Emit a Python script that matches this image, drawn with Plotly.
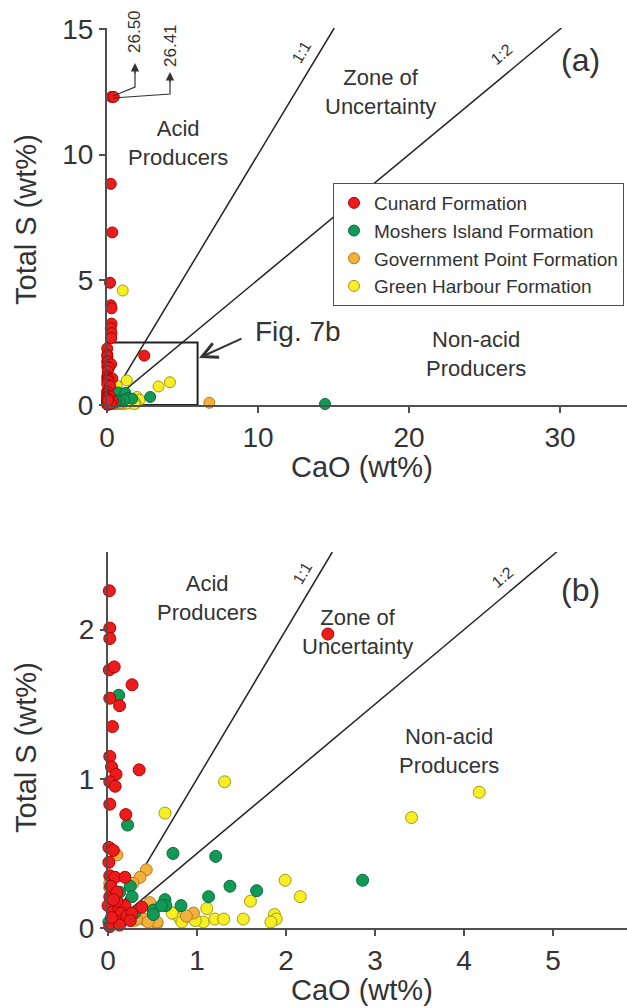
import plotly.graph_objects as go

W, H = 627, 1008

# ---------------- data (CaO wt%, Total S wt%) ----------------
cunard_cao = [0.30, 0.45, 0.25, 0.35, 0.20, 0.25, 0.30, 0.30, 0.25, 0.30, 0.28,
              0.015, 0.02, 0.02, 0.015, 0.07, 0.27, 0.02, 0.13, 0.05, 0.02, 0.04,
              0.35, 0.09, 0.02, 0.08, 0.02, 0.20, 0.01, 0.06, 0.01, 0.02, 0.08,
              0.19, 2.47, 0.02, 0.00, 0.06, 0.12, 0.19, 0.15, 0.08, 0.21, 0.27,
              0.02, 0.13, 0.38, 0.10, 0.04, 0.25, 0.03, 0.10, 0.06]
cunard_s = [26.50, 26.41, 8.83, 6.89, 4.88, 3.98, 3.86, 3.25, 3.07, 2.87, 2.67,
            2.26, 2.01, 1.94, 1.73, 1.75, 1.63, 1.54, 1.49, 1.35, 1.15, 1.08,
            1.06, 1.03, 0.98, 0.95, 0.83, 0.76, 0.54, 0.52, 0.44, 0.35, 0.34,
            0.34, 1.97, 0.21, 0.15, 0.11, 0.14, 0.15, 0.10, 0.05, 0.08, 0.10,
            0.01, 0.02, 0.14, 0.18, 0.07, 0.05, 0.28, 0.24, 0.19]

moshers_cao = [0.12, 0.22, 0.73, 1.21, 1.37, 1.67, 1.13, 0.25, 0.13, 0.27, 0.64,
               0.65, 0.82, 0.51, 0.30, 0.60, 2.86, 14.44, 0.01, 0.51]
moshers_s = [1.56, 0.69, 0.50, 0.48, 0.28, 0.25, 0.21, 0.28, 0.24, 0.21, 0.19,
             0.15, 0.15, 0.12, 0.10, 0.15, 0.32, 0.04, 0.04, 0.09]

govpoint_cao = [0.10, 0.43, 0.36, 0.47, 0.55, 0.96, 0.34, 0.43, 0.02, 0.40, 0.32,
                0.55, 0.02, 0.45, 0.88, 0.28, 6.78]
govpoint_s = [0.49, 0.39, 0.34, 0.17, 0.03, 0.10, 0.07, 0.05, 0.27, 0.06, 0.06,
              0.04, 0.30, 0.04, 0.08, 0.30, 0.09]

greenharb_cao = [1.04, 0.64, 1.31, 3.41, 4.17, 1.60, 1.99, 2.16, 1.11, 0.73, 1.52,
                 1.87, 1.89, 1.83, 1.07, 1.20, 1.30, 0.81, 0.83, 0.98, 0.30, 0.72]
greenharb_s = [4.57, 0.77, 0.98, 0.74, 0.91, 0.18, 0.32, 0.21, 0.13, 0.10, 0.06,
               0.09, 0.06, 0.04, 0.04, 0.06, 0.06, 0.06, 0.04, 0.05, 0.05, 0.10]

formations = ["Cunard Formation", "Moshers Island Formation",
              "Government Point Formation", "Green Harbour Formation"]
ratios = [1, 2]           # CaO : S lines
ratio_labels = ["1:1", "1:2"]
xticks_a = [0, 10, 20, 30]
yticks_a = [0, 5, 10, 15]
xticks_b = [0, 1, 2, 3, 4, 5]
yticks_b = [0, 1, 2]
offscale_labels = ["26.50", "26.41"]

# ---------------- styling ----------------
FONT = "Arial, Liberation Sans, sans-serif"
TXT = "#333333"
AXC = "#4f4f4f"
fills = ["#ec1c1c", "#119a55", "#f4b03c", "#f8ee24"]
edges = ["#b10000", "#0b6a3a", "#b27d1c", "#a59a12"]
draw_order = [3, 2, 1, 0]   # yellow first, red on top

XR_A, YR_A = [0, 34.44], [0, 15.05]
XR_B, YR_B = [0, 5.83], [0, 2.52]
OFFSCALE_Y = 12.3


def P(px, py):
    return px / W, 1 - py / H


series = [(cunard_cao, cunard_s), (moshers_cao, moshers_s),
          (govpoint_cao, govpoint_s), (greenharb_cao, greenharb_s)]

fig = go.Figure()

# ratio lines
for xa, ya, yr in (("x", "y", YR_A), ("x2", "y2", YR_B)):
    for r in ratios:
        fig.add_trace(go.Scatter(x=[0, yr[1] * r], y=[0, yr[1]], mode="lines",
                                 line=dict(color="#222222", width=1.5),
                                 xaxis=xa, yaxis=ya, showlegend=False,
                                 hoverinfo="skip"))

for i in draw_order:
    xs, ys = series[i]
    # panel a: all points, off-scale values shown at the top of the column
    ya_disp = [y if y <= YR_A[1] else OFFSCALE_Y for y in ys]
    fig.add_trace(go.Scatter(
        x=xs, y=ya_disp, mode="markers", name=formations[i],
        legendrank=i + 1, cliponaxis=False,
        marker=dict(size=11, color=fills[i], line=dict(color=edges[i], width=1)),
        xaxis="x", yaxis="y"))
    # panel b: zoomed window
    bx = [x for x, y in zip(xs, ys) if x <= XR_B[1] and y <= YR_B[1]]
    by = [y for x, y in zip(xs, ys) if x <= XR_B[1] and y <= YR_B[1]]
    fig.add_trace(go.Scatter(
        x=bx, y=by, mode="markers", name=formations[i], showlegend=False,
        cliponaxis=False,
        marker=dict(size=12, color=fills[i], line=dict(color=edges[i], width=1)),
        xaxis="x2", yaxis="y2"))

axis_common = dict(showgrid=False, zeroline=False, showline=True,
                   linecolor=AXC, linewidth=2, ticks="outside", ticklen=6,
                   tickwidth=1.5, tickcolor=AXC,
                   tickfont=dict(family=FONT, size=28, color=TXT))

fig.update_layout(
    width=W, height=H, margin=dict(l=0, r=0, t=0, b=0, autoexpand=False),
    paper_bgcolor="white", plot_bgcolor="white",
    font=dict(family=FONT, color=TXT),
    xaxis=dict(domain=[107 / W, 1], range=XR_A, anchor="y",
               tickvals=xticks_a, **axis_common),
    yaxis=dict(domain=[1 - 405 / H, 1 - 28 / H], range=YR_A, anchor="x",
               tickvals=yticks_a, **axis_common),
    xaxis2=dict(domain=[108 / W, 1], range=XR_B, anchor="y2",
                tickvals=xticks_b, **axis_common),
    yaxis2=dict(domain=[1 - 928 / H, 1 - 552 / H], range=YR_B, anchor="x2",
                tickvals=yticks_b, **axis_common),
    legend=dict(x=333 / W, y=1 - 183 / H, xanchor="left", yanchor="top",
                bordercolor=AXC, borderwidth=1, bgcolor="white",
                font=dict(family=FONT, size=19, color=TXT),
                tracegroupgap=0),
    showlegend=True,
)

ann = []


def text(px, py, s, size, angle=0, color=TXT):
    x, y = P(px, py)
    ann.append(dict(x=x, y=y, xref="paper", yref="paper", text=s,
                    showarrow=False, textangle=angle,
                    font=dict(family=FONT, size=size, color=color),
                    xanchor="center", yanchor="middle"))


# axis titles
text(26, 220, "Total S (wt%)", 29, -90)
text(362, 467, "CaO (wt%)", 29)
text(26, 748, "Total S (wt%)", 29, -90)
text(362, 990, "CaO (wt%)", 29)

# panel letters
text(580, 60, "(a)", 32)
text(580, 590, "(b)", 32)

# region labels
text(178, 143, "Acid<br>Producers", 22)
text(380, 92, "Zone of<br>Uncertainty", 22)
text(476, 354, "Non-acid<br>Producers", 22)
text(207, 598, "Acid<br>Producers", 22)
text(357, 632, "Zone of<br>Uncertainty", 22)
text(449, 751, "Non-acid<br>Producers", 22)

# ratio line labels
text(301, 52, ratio_labels[0], 16, -59)
text(501, 54, ratio_labels[1], 16, -40)
text(302, 573, ratio_labels[0], 16, -59)
text(502, 577, ratio_labels[1], 16, -40)

# off-scale values
text(134, 32, offscale_labels[0], 17, -90)
text(171, 46, offscale_labels[1], 17, -90)

# Fig. 7b label and arrow
text(298, 332, "Fig. 7b", 28)
hx, hy = P(199, 358)
ann.append(dict(x=hx, y=hy, xref="paper", yref="paper", text="",
                showarrow=True, ax=44, ay=-20, arrowhead=5, arrowsize=1.5,
                arrowwidth=2, arrowcolor="#333333", standoff=0, startstandoff=0))

# arrow heads for the off-scale points
for tipx, tipy in ((135, 63), (170, 72)):
    x, y = P(tipx, tipy)
    ann.append(dict(x=x, y=y, xref="paper", yref="paper", text="",
                    showarrow=True, ax=0, ay=12, arrowhead=2, arrowsize=1.4,
                    arrowwidth=1.2, arrowcolor="#333333", standoff=0,
                    startstandoff=0))

fig.update_layout(annotations=ann)

shapes = []
# zoom box in panel a
shapes.append(dict(type="rect", xref="x", yref="y", x0=0, x1=6, y0=0, y1=2.5,
                   line=dict(color="#222222", width=2), layer="below"))


def path(pts):
    s = ""
    for k, (px, py) in enumerate(pts):
        x, y = P(px, py)
        s += ("M" if k == 0 else "L") + f"{x:.5f},{y:.5f}"
    return s


shapes.append(dict(type="path", xref="paper", yref="paper",
                   path=path([(113, 96), (135, 87), (135, 70)]),
                   line=dict(color="#333333", width=1.2)))
shapes.append(dict(type="path", xref="paper", yref="paper",
                   path=path([(113, 98), (170, 94), (170, 79)]),
                   line=dict(color="#333333", width=1.2)))
fig.update_layout(shapes=shapes)

fig.write_html("out.html")
